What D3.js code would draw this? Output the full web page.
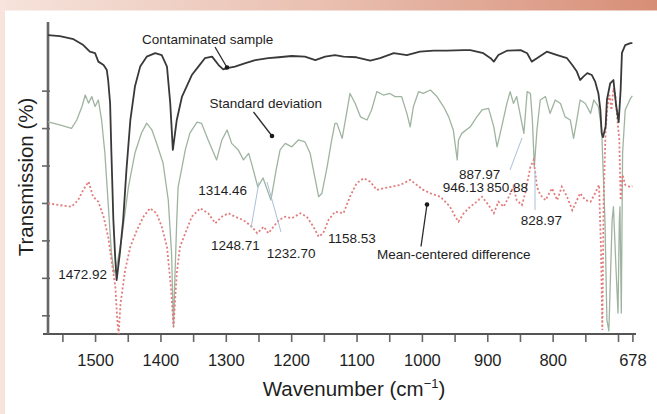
<!DOCTYPE html>
<html><head><meta charset="utf-8">
<script src="https://cdn.jsdelivr.net/npm/d3@7"></script>
<style>
body{margin:0;background:#fff}
svg{display:block}
text{font-family:"Liberation Sans",Arial,Helvetica,sans-serif;fill:#1e1e1e}
</style>
</head><body>
<svg id="c" width="657" height="414"></svg>
<script>
// ---------- data (wavenumber in cm-1, transmission in %) ----------
const contamWn = [1572,1554,1533,1518,1508,1500,1495,1487,1482,1480,1477,1475,1472,1469,1467,1462,1457,1452,1446,1439,1431,1421,1408,1398,1390,1385,1381,1375,1367,1360,1352,1342,1332,1321,1311,1304,1298,1286,1270,1255,1235,1219,1199,1179,1163,1148,1133,1120,1100,1079,1064,1043,1023,1003,982,962,936,926,906,895,890,883,870,849,839,832,824,809,793,778,770,763,758,753,747,740,735,730,727,725,723,719,717,712,707,703,699,696,694,689,681,678];
const contamT  = [95.8,95.5,94.5,92.6,90.5,90.0,87.3,86.2,84.6,81.4,74.0,58.0,36.5,23.7,17.3,26.0,36.5,52.6,68.6,79.3,85.7,88.9,90.0,89.4,85.7,74.0,59.0,68.6,76.1,79.3,83.0,85.7,88.4,88.9,86.2,84.8,85.2,85.7,86.8,87.8,88.4,88.7,89.1,88.9,87.8,88.9,89.4,88.9,88.7,87.6,88.4,90.0,89.4,90.5,90.8,90.8,91.0,91.0,90.0,88.4,87.3,89.4,90.8,91.0,90.0,87.3,88.4,90.5,89.4,88.4,86.2,84.1,81.4,82.5,83.6,83.0,80.9,77.1,71.8,64.4,63.1,66.4,75.0,80.3,81.4,73.4,67.9,78.2,90.1,92.6,93.2,93.2];

const stdWn = [1572,1554,1536,1528,1520,1515,1510,1505,1500,1495,1490,1485,1480,1475,1471,1467,1459,1449,1439,1429,1421,1413,1406,1396,1388,1383,1380,1378,1375,1373,1367,1362,1355,1344,1337,1327,1314,1306,1298,1291,1281,1273,1265,1260,1251,1243,1231,1223,1217,1209,1199,1189,1179,1171,1163,1158,1153,1145,1138,1133,1130,1122,1117,1110,1102,1094,1084,1077,1069,1059,1049,1041,1031,1023,1018,1013,1005,998,987,977,967,959,952,946,944,939,926,916,908,898,890,885,878,870,865,860,855,849,844,839,834,831,828,824,819,811,804,796,788,781,773,768,763,758,750,742,737,730,725,720,717,714,712,709,707,703,700,698,697,695,693,689,681,678];
const stdT  = [68.0,67.0,65.9,68.6,72.9,76.6,74.0,76.1,72.9,75.0,68.6,58.0,42.0,26.0,19.6,21.5,31.1,47.1,58.0,64.4,67.6,65.4,61.2,54.8,42.9,26.0,2.2,17.3,36.5,47.1,53.5,59.0,64.4,67.9,67.5,62.2,55.8,62.2,65.4,61.1,59.0,55.8,57.9,54.2,47.1,50.0,42.9,52.6,59.0,61.1,60.0,62.2,61.6,57.9,49.4,44.0,45.1,53.6,62.2,67.5,67.5,62.7,68.6,77.1,73.9,69.6,68.6,71.8,77.7,76.6,77.1,76.1,76.1,70.7,66.4,72.9,77.7,77.1,78.2,76.1,72.9,69.6,65.4,55.8,62.2,64.3,66.4,69.6,71.8,72.3,66.4,60.0,66.4,73.9,77.7,73.9,76.1,69.6,64.3,77.7,77.1,68.6,53.6,65.4,75.0,76.1,70.7,75.0,73.9,69.6,68.6,62.7,68.6,75.0,73.9,70.7,75.0,72.9,65.4,36.5,4.5,1.0,15.2,36.5,40.8,20.5,6.7,36.5,40.8,6.7,58.0,71.8,75.5,76.3];

const diffWn = [1572,1554,1536,1526,1518,1510,1503,1495,1487,1480,1475,1469,1466,1464,1461,1454,1446,1436,1426,1416,1406,1398,1390,1384,1380,1375,1370,1362,1352,1339,1327,1316,1306,1296,1286,1273,1260,1252,1242,1235,1227,1219,1209,1199,1186,1176,1166,1158,1151,1143,1133,1120,1110,1100,1089,1079,1069,1059,1046,1033,1018,1008,998,987,972,957,949,944,936,926,916,908,898,890,883,875,867,860,855,847,842,834,829,824,819,811,801,793,786,778,770,765,758,750,742,735,729,726,724,722,719,716,713,710,707,704,701,698,696,693,689,681,678];
const diffT  = [41.9,41.3,40.8,42.9,46.2,48.8,44.0,42.4,37.6,31.2,23.7,15.2,4.5,0.0,9.8,20.5,28.0,33.3,37.6,40.3,38.7,34.4,28.0,15.2,2.3,19.5,28.0,32.3,37.6,40.3,38.7,35.5,37.6,38.7,37.6,36.5,34.4,32.3,34.4,32.3,34.4,36.5,37.6,37.1,38.7,37.6,34.4,31.2,32.3,36.5,39.2,38.7,44.0,48.3,49.9,48.8,46.2,46.7,47.2,47.8,49.4,47.8,46.2,45.1,44.0,40.8,37.6,36.0,38.7,40.8,42.4,44.0,41.3,38.7,42.4,40.8,44.0,47.2,42.9,41.3,45.1,53.6,55.8,47.2,44.6,42.9,46.7,42.9,47.2,44.0,39.7,41.9,45.1,42.9,42.4,45.1,47.8,26.9,1.3,42.9,65.4,73.4,76.6,71.8,78.8,76.6,68.6,62.2,42.9,51.0,47.8,47.1,47.4];

const xTickValues  = [1550,1500,1450,1400,1350,1300,1250,1200,1150,1100,1050,1000,950,900,850,800,750,700,678];
const xTickLabels  = [1500,1400,1300,1200,1100,1000,900,800,678];
const yTickValues  = [6,18,30,42,54,66,78];

const peakLabels   = ["1472.92","1314.46","1248.71","1232.70","1158.53","946.13","887.97","850.88","828.97"];
const seriesNames  = ["Contaminated sample","Standard deviation","Mean-centered difference"];

// ---------- layout ----------
const svg = d3.select("#c");
const W = 657, H = 414;
const x = d3.scaleLinear().domain([1572, 678]).range([48, 632.4]);
const y = d3.scaleLinear().domain([0, 100]).range([334, 22]);

// frame background
const defs = svg.append("defs");
const g1 = defs.append("linearGradient").attr("id","band").attr("x1","0").attr("x2","1").attr("y1","0").attr("y2","0");
g1.append("stop").attr("offset","0").attr("stop-color","#f6e3db");
g1.append("stop").attr("offset","0.5").attr("stop-color","#e9bfb0");
g1.append("stop").attr("offset","1").attr("stop-color","#d78e77");
svg.append("rect").attr("x",0).attr("y",0).attr("width",W).attr("height",H).attr("fill","#fff");
svg.append("rect").attr("x",0).attr("y",0).attr("width",W).attr("height",10.5).attr("fill","url(#band)");
svg.append("rect").attr("x",0).attr("y",0).attr("width",5).attr("height",H).attr("fill","#f8e4dc");

// ---------- axes ----------
const xAxis = d3.axisBottom(x).tickValues(xTickValues).tickSize(8)
  .tickFormat(d => xTickLabels.includes(d) ? String(d) : "");
const gx = svg.append("g").attr("transform","translate(0,334)").call(xAxis);
gx.select(".domain").remove();
gx.selectAll(".tick line").attr("stroke","#666").attr("stroke-width",1.6);
gx.selectAll(".tick text").attr("y",32).attr("dy",0)
  .style("font-size","16.5px").style("font-family","'Liberation Sans',Arial,sans-serif").attr("fill","#1e1e1e");
svg.append("line").attr("x1",43).attr("x2",636).attr("y1",334).attr("y2",334)
  .attr("stroke","#555").attr("stroke-width",2.2);

const yAxis = d3.axisLeft(y).tickValues(yTickValues).tickSize(6).tickFormat("");
const gy = svg.append("g").attr("transform","translate(48,0)").call(yAxis);
gy.select(".domain").remove();
gy.selectAll(".tick line").attr("stroke","#666").attr("stroke-width",1.6).attr("x1",2);
svg.append("line").attr("x1",48).attr("x2",48).attr("y1",22).attr("y2",334)
  .attr("stroke","#666").attr("stroke-width",2.6);

// axis titles
svg.append("text").attr("transform","translate(33,177) rotate(-90)")
  .attr("text-anchor","middle").style("font-size","20.5px").text("Transmission (%)");
const xt = svg.append("text").attr("x",354).attr("y",396).attr("text-anchor","middle").style("font-size","20.5px");
xt.append("tspan").text("Wavenumber (cm");
xt.append("tspan").attr("dy",-8).style("font-size","13px").text("\u22121");
xt.append("tspan").attr("dy",8).text(")");

// ---------- series ----------
const line = d3.line().x(d => x(d[0])).y(d => y(d[1]));
const zip = (a,b) => a.map((v,i) => [v,b[i]]);

svg.append("path").datum(zip(stdWn,stdT)).attr("d",line)
  .attr("fill","none").attr("stroke","#9fb4a0").attr("stroke-width",1.3).attr("stroke-linejoin","round");
svg.append("path").datum(zip(diffWn,diffT)).attr("d",line)
  .attr("fill","none").attr("stroke","#e27c7c").attr("stroke-width",1.8).attr("stroke-dasharray","2,2.2");
svg.append("path").datum(zip(contamWn,contamT)).attr("d",line)
  .attr("fill","none").attr("stroke","#393939").attr("stroke-width",1.8).attr("stroke-linejoin","round");

// ---------- leader lines for peak labels ----------
const leaders = [[259,182,251,228],[267,182,281,232],[522,138,510,170],[535,170,535,210]];
svg.selectAll(".leader").data(leaders).enter().append("line")
  .attr("x1",d=>d[0]).attr("y1",d=>d[1]).attr("x2",d=>d[2]).attr("y2",d=>d[3])
  .attr("stroke","#a9c0d8").attr("stroke-width",1);

// ---------- peak labels ----------
const peakPos = [[58.3,279],[198.3,195],[211,250],[266.7,258],[328,243],[442.7,192],[459,178.5],[486.7,192],[520.7,225]];
svg.selectAll(".pk").data(peakLabels).enter().append("text")
  .attr("x",(d,i)=>peakPos[i][0]).attr("y",(d,i)=>peakPos[i][1])
  .style("font-size","13.5px").text(d=>d);

// ---------- series annotations ----------
const annPos = [[142,44],[209.5,107.5],[377,259]];
const arrows = [[215,47,227,67.5],[253.5,112,272,136],[421,246.5,427,204.5]];
svg.selectAll(".ann").data(seriesNames).enter().append("text")
  .attr("x",(d,i)=>annPos[i][0]).attr("y",(d,i)=>annPos[i][1])
  .style("font-size","13.5px").text(d=>d);
svg.selectAll(".arr").data(arrows).enter().append("line")
  .attr("x1",d=>d[0]).attr("y1",d=>d[1]).attr("x2",d=>d[2]).attr("y2",d=>d[3])
  .attr("stroke","#2a2a2a").attr("stroke-width",1.3);
svg.selectAll(".dot").data(arrows).enter().append("circle")
  .attr("cx",d=>d[2]).attr("cy",d=>d[3]).attr("r",2.3).attr("fill","#1a1a1a");
</script>
</body></html>
